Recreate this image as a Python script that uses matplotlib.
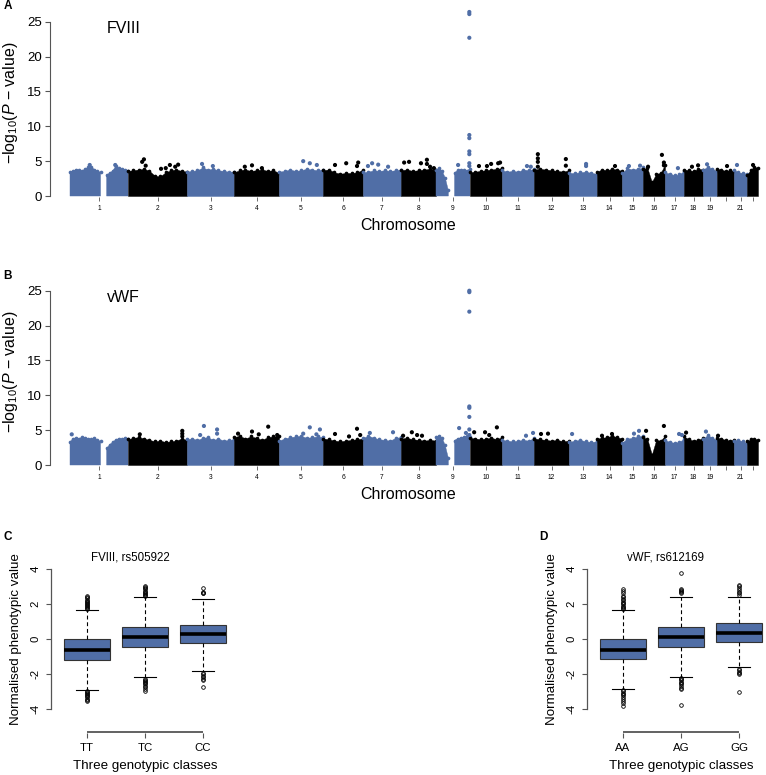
import numpy as np
import matplotlib.pyplot as plt

plt.rcParams['font.family'] = ['Liberation Sans', 'DejaVu Sans']
plt.rcParams['mathtext.fontset'] = 'custom'
plt.rcParams['mathtext.rm'] = 'Liberation Sans'
plt.rcParams['mathtext.it'] = 'Liberation Sans:italic'
plt.rcParams['axes.unicode_minus'] = False

BLUE = '#506ea6'

# -----------------------------
# Manhattan data
# -----------------------------
chrom_size = [58, 59, 47, 45, 44, 40, 38, 35, 34, 32, 32, 35, 28, 25, 21, 22, 19, 19, 14, 17, 13, 11]
chrom_labels = ['1', '2', '3', '4', '5', '6', '7', '8', '9', '10', '11', '12', '13', '14',
                '15', '16', '17', '18', '19', '', '21', '']

nan = float('nan')

# top of the dense band of points, per chromosome
fviii_band = [
    [3.5, 3.6, 3.8, 3.7, 3.6, 3.9, 4.1, 4.2, 3.8, 3.6, 3.4, nan, 3.0, 3.3, 3.6, 4.3, 4.0, 3.9, 3.8, 3.6],
    [3.6, 3.7, 3.8, 3.9, 3.6, 2.9, 2.8, 3.4, 3.7, 3.8, 3.6, 3.5],
    [3.5, 3.6, 3.7, 4.1, 3.8, 3.9, 3.7, 3.6, 3.5, 3.5],
    [3.4, 3.7, 3.8, 3.6, 3.7, 3.8, 3.6, 3.7, 3.3],
    [3.5, 3.6, 3.8, 3.6, 3.7, 3.9, 3.8, 3.7, 3.8],
    [3.7, 3.8, 3.4, 3.2, 3.3, 3.3, 3.4, 3.8],
    [3.4, 3.5, 3.7, 3.6, 3.7, 3.6, 3.7, 3.8],
    [3.7, 3.8, 3.6, 3.7, 3.8, 3.9, 3.7],
    [3.7, 4.0, 3.6, 2.6, 0.8, nan, 3.3, 3.7, 3.8, 3.7, 3.6, 3.9],
    [3.4, 3.5, 3.6, 3.7, 3.8, 3.9, 4.0],
    [3.7, 3.5, 3.6, 3.5, 3.8, 3.7, 3.9],
    [3.8, 3.9, 3.8, 3.7, 3.6, 3.5, 3.7],
    [3.3, 3.3, 3.4, 3.5, 3.3, 3.2],
    [3.5, 3.8, 3.7, 3.9, 3.8, 3.6],
    [3.3, 4.0, 3.8, 3.9, 4.1],
    [3.9, 4.0, 2.0, 3.2, 3.3, 4.5],
    [3.4, 3.2, 3.0, 3.1, 3.6],
    [3.8, 3.7, 3.6, 3.9, 3.8],
    [3.8, 4.2, 3.9, 3.6],
    [3.9, 3.8, 3.6, 3.7, 3.6],
    [3.7, 3.4, 3.3, 3.2],
    [3.0, 3.8, 4.2, 4.0],
]
# single points above the band: chromosome, position within chromosome, -log10 p
fviii_peak_chr = [1, 1, 2, 2, 2, 2, 2, 2, 2, 2, 3, 3, 4, 4, 4, 5, 5, 5, 6, 6, 6, 6,
                  7, 7, 7, 7, 8, 8, 8, 8, 8, 8, 8, 9, 9, 9, 9, 9, 9, 9, 9, 9, 9,
                  10, 10, 10, 10, 10, 11, 11, 12, 12, 12, 12, 12, 12, 13, 13, 14, 15, 15,
                  16, 16, 16, 16, 17, 18, 18, 19, 20, 21, 22]
fviii_peak_pos = [0.34, 0.78, 0.27, 0.24, 0.30, 0.56, 0.64, 0.71, 0.80, 0.85, 0.32, 0.55,
                  0.24, 0.40, 0.62, 0.55, 0.70, 0.86, 0.30, 0.58, 0.88, 0.85,
                  0.13, 0.24, 0.40, 0.66, 0.09, 0.23, 0.57, 0.74, 0.74, 0.83, 0.94,
                  0.65, 0.98, 0.98, 0.98, 0.98, 0.98, 0.98, 0.98, 0.98, 0.98,
                  0.28, 0.53, 0.66, 0.88, 0.94, 0.78, 0.90, 0.11, 0.11, 0.11, 0.11, 0.91, 0.91,
                  0.61, 0.61, 0.72, 0.33, 0.86, 0.23, 0.86, 0.95, 0.95, 0.68, 0.42, 0.74,
                  0.29, 0.59, 0.23, 0.55]
fviii_peak_val = [4.45, 4.45, 5.26, 4.9, 4.35, 3.9, 4.0, 4.45, 4.2, 4.5, 4.6, 4.3,
                  4.2, 4.4, 4.0, 5.0, 4.7, 4.45, 4.45, 4.7, 4.8, 4.3,
                  4.3, 4.7, 4.5, 4.2, 4.8, 4.9, 4.7, 5.2, 4.6, 4.2, 4.0,
                  4.45, 26.4, 26.1, 22.7, 8.75, 8.3, 6.4, 6.0, 4.7, 4.3,
                  4.3, 4.3, 4.6, 4.7, 4.8, 4.3, 4.2, 6.0, 5.4, 4.9, 4.2, 5.3, 4.35,
                  4.6, 4.3, 4.3, 4.3, 4.35, 4.2, 5.9, 4.8, 4.4, 4.0, 4.2, 4.4,
                  4.55, 4.3, 4.45, 4.45]

vwf_band = [
    [3.3, 3.8, 3.9, 3.8, 4.0, 3.9, 3.8, 3.7, 3.9, 3.6, 3.4, nan, 2.4, 2.9, 3.3, 3.6, 3.8, 3.7, 3.9, 3.8],
    [3.7, 3.9, 4.0, 3.8, 3.6, 3.4, 3.5, 3.3, 3.4, 3.5, 3.8, 3.6],
    [3.7, 3.8, 3.6, 3.9, 4.0, 3.6, 3.8, 3.5, 3.6, 3.7],
    [4.0, 4.2, 3.8, 4.1, 3.9, 3.6, 4.0, 4.1, 4.2],
    [3.5, 3.8, 4.0, 4.1, 4.2, 3.9, 4.0, 4.1, 4.0],
    [3.8, 3.7, 3.5, 3.4, 3.5, 3.6, 3.7, 3.8],
    [3.9, 4.2, 3.9, 3.7, 3.6, 3.5, 3.9, 4.0],
    [3.8, 3.9, 3.7, 3.6, 3.5, 3.6, 3.5],
    [4.0, 4.2, 3.9, 2.8, 1.0, nan, 3.5, 3.8, 3.9, 4.0, 4.1, 4.0],
    [3.9, 3.8, 3.7, 3.8, 3.9, 3.7, 4.0],
    [3.6, 3.5, 3.4, 3.5, 3.6, 3.5, 3.9],
    [3.8, 3.7, 3.6, 3.5, 3.6, 3.4, 3.5],
    [3.3, 3.5, 3.6, 3.4, 3.3, 3.4],
    [3.8, 3.9, 4.0, 4.2, 4.0, 3.8],
    [3.2, 3.8, 3.9, 4.1, 4.2],
    [4.0, 3.7, 1.5, 3.6, 3.5, 4.2],
    [3.6, 3.3, 3.2, 3.3, 3.8],
    [4.1, 3.7, 3.5, 3.6, 3.9],
    [3.8, 4.3, 3.9, 3.6],
    [3.9, 3.8, 3.6, 3.5, 3.6],
    [3.5, 3.6, 3.4, 3.2],
    [3.4, 3.7, 3.8, 3.6],
]
vwf_peak_chr = [1, 2, 2, 2, 2, 3, 3, 3, 3, 4, 4, 4, 4, 4, 5, 5, 5, 5, 6, 6, 6, 6,
                7, 7, 8, 8, 8, 8, 9, 9, 9, 9, 9, 9, 9, 9, 9, 9,
                10, 10, 10, 10, 11, 11, 12, 12, 13, 14, 14, 15, 15, 16, 16, 17, 17, 18, 19, 20]
vwf_peak_pos = [0.03, 0.20, 0.92, 0.92, 0.92, 0.36, 0.64, 0.64, 0.28, 0.09, 0.40, 0.76, 0.96, 0.55,
                0.55, 0.70, 0.93, 0.85, 0.30, 0.85, 0.93, 0.65,
                0.18, 0.79, 0.06, 0.31, 0.46, 0.60, 0.68, 0.88, 0.98, 0.98, 0.98, 0.98, 0.98, 0.98,
                0.98, 0.98, 0.13, 0.47, 0.84, 0.60, 0.75, 0.97, 0.20, 0.40, 0.11, 0.20, 0.60,
                0.57, 0.81, 0.14, 0.95, 0.74, 0.89, 0.11, 0.21, 0.06]
vwf_peak_val = [4.4, 4.4, 4.9, 4.5, 4.1, 5.6, 5.1, 4.5, 4.3, 4.5, 4.8, 5.5, 4.3, 4.4,
                4.5, 5.4, 5.1, 4.4, 4.45, 5.2, 4.3, 4.1,
                4.6, 4.7, 4.2, 4.7, 4.3, 4.2, 5.3, 4.6, 25.0, 24.8, 22.0, 8.4, 8.2, 6.9,
                5.1, 4.3, 4.7, 4.7, 5.4, 4.3, 4.2, 4.6, 4.45, 4.5, 4.45, 4.2, 4.45,
                4.5, 4.9, 4.9, 5.6, 4.45, 4.3, 4.65, 4.8, 4.2]

# -----------------------------
# Box plot data
# -----------------------------
fviii_classes = ['TT', 'TC', 'CC']
fviii_whislo = [-2.88, -2.17, -1.79]
fviii_q1 = [-1.18, -0.46, -0.23]
fviii_med = [-0.61, 0.15, 0.29]
fviii_q3 = [0.00, 0.70, 0.80]
fviii_whishi = [1.68, 2.44, 2.32]
fviii_fliers = [
    [1.76, 1.8, 1.86, 1.9, 1.97, 2.02, 2.08, 2.13, 2.2, 2.27, 2.35, 2.43, 2.5,
     -2.95, -3.0, -3.05, -3.1, -3.16, -3.22, -3.3, -3.4, -3.48, -3.55],
    [2.5, 2.55, 2.6, 2.66, 2.72, 2.78, 2.85, 2.92, 2.98, 3.04,
     -2.25, -2.3, -2.36, -2.42, -2.5, -2.58, -2.66, -2.75, -2.85, -2.93],
    [2.62, 2.67, 2.72, 2.95, -1.92, -2.0, -2.08, -2.16, -2.24, -2.31, -2.7],
]

vwf_classes = ['AA', 'AG', 'GG']
vwf_whislo = [-2.86, -2.13, -1.60]
vwf_q1 = [-1.14, -0.46, -0.13]
vwf_med = [-0.61, 0.15, 0.38]
vwf_q3 = [0.00, 0.72, 0.91]
vwf_whishi = [1.68, 2.44, 2.40]
vwf_fliers = [
    [1.75, 1.8, 1.87, 1.93, 2.0, 2.07, 2.15, 2.22, 2.3, 2.4, 2.5, 2.62, 2.74, 2.86,
     -2.92, -2.98, -3.05, -3.12, -3.2, -3.3, -3.4, -3.5, -3.62, -3.81],
    [2.62, 2.68, 2.74, 2.8, 2.86, 3.78,
     -2.22, -2.28, -2.35, -2.42, -2.5, -2.58, -2.66, -2.76, -2.86, -3.75],
    [2.55, 2.62, 2.7, 2.8, 2.92, 3.02, 3.1, -1.7, -1.76, -1.84, -1.92, -2.0, -3.0],
]


def manhattan(ax, band, pk_chr, pk_pos, pk_val, name):
    size = np.array(chrom_size, dtype=float)
    starts = np.concatenate([[0], np.cumsum(size)[:-1]])
    for i, vals in enumerate(band):
        col = BLUE if i % 2 == 0 else 'black'
        x = starts[i] + np.linspace(0, 1, len(vals)) * size[i]
        y = np.array(vals, dtype=float)
        ax.fill_between(x, 0, y, color=col, lw=0.3, edgecolor=col)
        ax.scatter(x, y, s=7, color=col, lw=0)

    c = np.array(pk_chr) - 1
    px = starts[c] + np.array(pk_pos) * size[c]
    cols = [BLUE if k % 2 == 0 else 'black' for k in c]
    ax.scatter(px, pk_val, s=9, c=cols, lw=0, zorder=3)

    ax.set_xlim(-20, 696)
    ax.set_ylim(-0.2, 27)
    ax.set_xticks(starts + size / 2)
    ax.set_xticklabels(chrom_labels, fontsize=4.8)
    ax.set_yticks([0, 5, 10, 15, 20, 25])
    for s in ['top', 'right', 'bottom']:
        ax.spines[s].set_visible(False)
    ax.spines['left'].set_bounds(0, 25)
    ax.spines['left'].set_color('#555555')
    ax.spines['left'].set_linewidth(0.8)
    ax.tick_params(axis='y', length=3.6, width=0.8, color='#555555', labelsize=9.5, pad=2)
    ax.tick_params(axis='x', length=3.2, width=0.6, color='#555555', pad=2.5)
    ax.set_xlabel('Chromosome', fontsize=11.5)
    ax.xaxis.set_label_coords(0.5, -0.11)
    ax.set_ylabel('\u2212log$_{10}$($\\it{P}$ \u2212 value)', fontsize=11.5)
    ax.yaxis.set_label_coords(-0.042, 0.5)
    ax.text(0.103, 0.893, name, transform=ax.transAxes, fontsize=11.5, ha='center', va='center')


def boxpanel(ax, classes, whislo, q1, med, q3, whishi, fliers, title):
    stats = []
    for k in range(len(classes)):
        stats.append(dict(whislo=whislo[k], q1=q1[k], med=med[k], q3=q3[k],
                          whishi=whishi[k], fliers=np.array(fliers[k])))
    ax.bxp(stats, positions=[1, 2, 3], widths=0.8, capwidths=0.37, patch_artist=True,
           boxprops=dict(facecolor=BLUE, edgecolor='#333333', lw=0.8),
           medianprops=dict(color='black', lw=2.6),
           whiskerprops=dict(color='black', ls=(0, (3.5, 2.5)), lw=0.8),
           capprops=dict(color='black', lw=0.8),
           flierprops=dict(marker='o', ms=2.6, mfc='none', mec='black', mew=0.6))
    ax.set_xlim(0.38, 3.62)
    # bottom limit leaves room so the x axis line sits below the -4 tick, as in the original
    ybot = -5.354
    ax.set_ylim(ybot, 4.32)
    ax.set_yticks([-4, -2, 0, 2, 4])
    ax.set_xticks([1, 2, 3])
    ax.set_xticklabels(classes)
    for s in ['top', 'right', 'bottom']:
        ax.spines[s].set_visible(False)
    # R style x axis line running only from the first to the last group
    ax.plot([1, 3], [ybot + 0.04, ybot + 0.04], color='#555555', lw=1.3,
            clip_on=False, solid_capstyle='butt', zorder=5)
    ax.spines['left'].set_bounds(-4, 4)
    ax.spines['left'].set_color('#555555')
    ax.spines['left'].set_linewidth(0.9)
    ax.tick_params(axis='both', length=3.6, width=0.8, color='#555555', labelsize=8.2)
    ax.tick_params(axis='y', labelrotation=90, pad=4)
    for lab in ax.get_yticklabels():
        lab.set_va('center')
    ax.set_xlabel('Three genotypic classes', fontsize=9.6)
    ax.xaxis.set_label_coords(0.5, -0.162)
    ax.set_ylabel('Normalised phenotypic value', fontsize=9.6)
    ax.yaxis.set_label_coords(-0.155, 0.555)
    ax.set_title(title, fontsize=8.3, x=0.42, pad=-1)


fig = plt.figure(figsize=(7.66, 7.75), dpi=100)
W, H = 766.0, 775.0

axA = fig.add_axes([50 / W, (H - 197.4) / H, 716 / W, 189.6 / H])
manhattan(axA, fviii_band, fviii_peak_chr, fviii_peak_pos, fviii_peak_val, 'FVIII')

axB = fig.add_axes([50 / W, (H - 466.4) / H, 716 / W, 189.6 / H])
manhattan(axB, vwf_band, vwf_peak_chr, vwf_peak_pos, vwf_peak_val, 'vWF')

axC = fig.add_axes([51 / W, (H - 733) / H, 188 / W, 169.3 / H])
boxpanel(axC, fviii_classes, fviii_whislo, fviii_q1, fviii_med, fviii_q3, fviii_whishi,
         fviii_fliers, 'FVIII, rs505922')

axD = fig.add_axes([587 / W, (H - 733) / H, 188 / W, 169.3 / H])
boxpanel(axD, vwf_classes, vwf_whislo, vwf_q1, vwf_med, vwf_q3, vwf_whishi,
         vwf_fliers, 'vWF, rs612169')

for letter, x, y in [('A', 8, 6), ('B', 8, 276), ('C', 8, 537), ('D', 543, 537)]:
    fig.text(x / W, 1 - y / H, letter, fontsize=8.5, fontweight='bold', ha='center', va='center')

fig.savefig('out.png', dpi=100)
